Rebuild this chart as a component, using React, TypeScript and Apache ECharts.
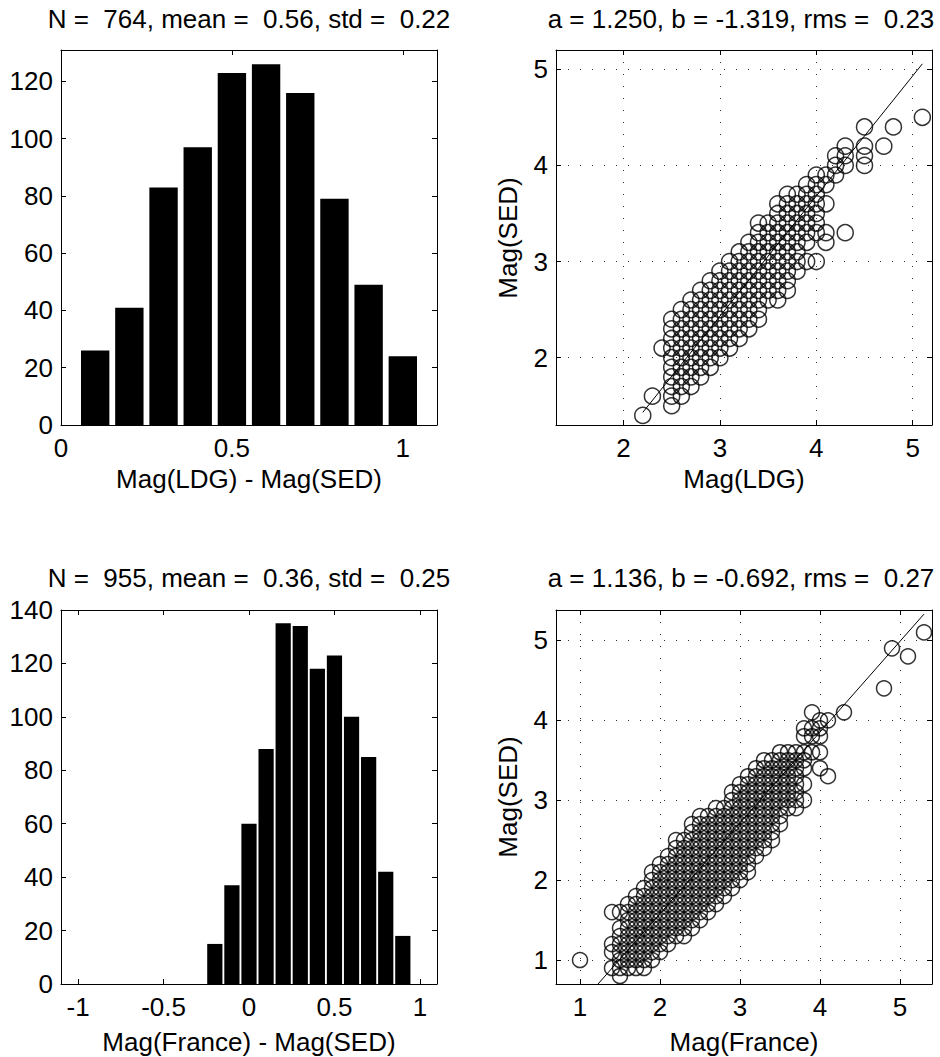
import React, { useEffect, useRef } from "react";
import * as echarts from "echarts";

const FONT = '"Liberation Sans", Arial, Helvetica, sans-serif';

// ---- Histogram: Mag(LDG) - Mag(SED)
const ldgBinCenters = [0.1, 0.2, 0.3, 0.4, 0.5, 0.6, 0.7, 0.8, 0.9, 1.0];
const ldgCounts = [26, 41, 83, 97, 123, 126, 116, 79, 49, 24];

// ---- Histogram: Mag(France) - Mag(SED)
const franceBinCenters = [-0.2, -0.1, 0.0, 0.1, 0.2, 0.3, 0.4, 0.5, 0.6, 0.7, 0.8, 0.9];
const franceCounts = [15, 37, 60, 88, 135, 134, 118, 123, 100, 85, 42, 18];

// ---- Scatter Mag(LDG) vs Mag(SED): occupied 0.1-grid cells, per column [x, yFrom, yTo]
const ldgRuns: [number, number, number][] = [
  [2.2, 1.4, 1.4], [2.3, 1.6, 1.6], [2.4, 2.1, 2.1],
  [2.5, 1.5, 2.4], [2.6, 1.6, 2.5], [2.7, 1.7, 2.6], [2.8, 1.8, 2.7],
  [2.9, 1.9, 2.8], [3.0, 2.0, 2.9], [3.1, 2.1, 3.0], [3.2, 2.2, 3.1],
  [3.3, 2.3, 3.2], [3.4, 2.4, 3.4], [3.5, 2.6, 3.4], [3.6, 2.6, 3.6],
  [3.7, 2.7, 3.7], [3.8, 2.9, 3.7],
  [3.9, 3.0, 3.0], [3.9, 3.2, 3.8],
  [4.0, 3.0, 3.0], [4.0, 3.3, 3.9],
  [4.1, 3.2, 3.3], [4.1, 3.6, 3.6], [4.1, 3.8, 3.9],
  [4.2, 3.9, 4.1],
  [4.3, 3.3, 3.3], [4.3, 4.0, 4.2],
  [4.5, 4.0, 4.2], [4.5, 4.4, 4.4],
  [4.7, 4.2, 4.2], [4.8, 4.4, 4.4], [5.1, 4.5, 4.5],
];
const ldgFit = { a: 1.25, b: -1.319 };

// ---- Scatter Mag(France) vs Mag(SED)
const franceRuns: [number, number, number][] = [
  [1.0, 1.0, 1.0],
  [1.4, 0.9, 0.9], [1.4, 1.1, 1.2], [1.4, 1.6, 1.6],
  [1.5, 0.8, 1.4], [1.5, 1.6, 1.6],
  [1.6, 0.9, 1.7], [1.7, 0.9, 1.8], [1.8, 0.9, 1.9], [1.9, 1.0, 2.1],
  [2.0, 1.1, 2.2], [2.1, 1.2, 2.3], [2.2, 1.3, 2.5], [2.3, 1.3, 2.5],
  [2.4, 1.4, 2.7], [2.5, 1.5, 2.8], [2.6, 1.6, 2.8], [2.7, 1.7, 2.9],
  [2.8, 1.8, 2.9], [2.9, 1.9, 3.1], [3.0, 2.0, 3.2], [3.1, 2.1, 3.3],
  [3.2, 2.3, 3.4], [3.3, 2.4, 3.5], [3.4, 2.5, 3.5], [3.5, 2.7, 3.6],
  [3.6, 2.9, 3.6], [3.7, 2.9, 3.6],
  [3.8, 3.0, 3.0], [3.8, 3.2, 3.2], [3.8, 3.4, 3.6], [3.8, 3.8, 3.9],
  [3.9, 3.6, 3.6], [3.9, 3.8, 3.9], [3.9, 4.1, 4.1],
  [4.0, 3.4, 3.4], [4.0, 3.6, 3.6], [4.0, 3.8, 4.0],
  [4.1, 3.3, 3.3], [4.1, 4.0, 4.0],
  [4.3, 4.1, 4.1], [4.8, 4.4, 4.4], [4.9, 4.9, 4.9], [5.1, 4.8, 4.8], [5.3, 5.1, 5.1],
];
const franceFit = { a: 1.136, b: -0.692 };

// ---- Tick values
const ticksX0 = [0, 0.5, 1];
const ticksY0 = [0, 20, 40, 60, 80, 100, 120];
const ticksX1 = [2, 3, 4, 5];
const ticksY1 = [2, 3, 4, 5];
const ticksX2 = [-1, -0.5, 0, 0.5, 1];
const ticksY2 = [0, 20, 40, 60, 80, 100, 120, 140];
const ticksX3 = [1, 2, 3, 4, 5];
const ticksY3 = [1, 2, 3, 4, 5];

// ---- Texts
const titles = [
  "N =  764, mean =  0.56, std =  0.22",
  "a = 1.250, b = -1.319, rms =  0.23",
  "N =  955, mean =  0.36, std =  0.25",
  "a = 1.136, b = -0.692, rms =  0.27",
];
const xNames = ["Mag(LDG) - Mag(SED)", "Mag(LDG)", "Mag(France) - Mag(SED)", "Mag(France)"];
const yNames = ["", "Mag(SED)", "", "Mag(SED)"];

function expandRuns(runs: [number, number, number][]) {
  const pts: number[][] = [];
  for (const [x, lo, hi] of runs) {
    for (let k = Math.round(lo * 10); k <= Math.round(hi * 10); k++) pts.push([x, k / 10]);
  }
  return pts;
}

function fitLine(points: number[][], a: number, b: number) {
  const xs = points.map((p) => p[0]);
  const x0 = Math.min(...xs);
  const x1 = Math.max(...xs);
  return [
    [x0, a * x0 + b],
    [x1, a * x1 + b],
  ];
}

export default function App() {
  const ref = useRef<HTMLDivElement>(null);

  useEffect(() => {
    document.body.style.margin = "0";
    if (!ref.current) return;
    const chart = echarts.init(ref.current, null, { renderer: "svg" });

    const grids = [
      { left: 61, top: 50, width: 376, height: 375 },
      { left: 556, top: 50, width: 376, height: 375 },
      { left: 61, top: 610, width: 376, height: 374 },
      { left: 556, top: 610, width: 376, height: 374 },
    ];
    const panels = [
      { xr: [0, 1.1], yr: [0, 131], xt: ticksX0, yt: ticksY0, grid: false },
      { xr: [1.3, 5.2], yr: [1.3, 5.2], xt: ticksX1, yt: ticksY1, grid: true },
      { xr: [-1.1, 1.1], yr: [0, 140], xt: ticksX2, yt: ticksY2, grid: false },
      { xr: [0.7, 5.4], yr: [0.7, 5.38], xt: ticksX3, yt: ticksY3, grid: true },
    ];

    const lineStyle = { color: "#000", width: 1 };
    const gridLine = (show: boolean) => ({
      show,
      lineStyle: { color: "#333", width: 1, type: [1, 11] as any },
    });

    const xAxis: any[] = [];
    const yAxis: any[] = [];
    panels.forEach((p, i) => {
      const common = (vals: number[]) => ({
        gridIndex: i,
        type: "value",
        axisLine: { show: true, onZero: false, lineStyle },
        axisTick: { show: true, inside: true, length: 5, customValues: vals, lineStyle },
      });
      xAxis.push({
        ...common(p.xt),
        position: "bottom",
        min: p.xr[0],
        max: p.xr[1],
        axisLabel: {
          show: true,
          customValues: p.xt,
          margin: 10,
          fontSize: 26,
          fontFamily: FONT,
          color: "#000",
        },
        splitLine: gridLine(p.grid),
      });
      xAxis.push({
        ...common(p.xt),
        position: "top",
        min: p.xr[0],
        max: p.xr[1],
        axisLabel: { show: false },
        splitLine: { show: false },
      });
      yAxis.push({
        ...common(p.yt),
        position: "left",
        min: p.yr[0],
        max: p.yr[1],
        axisLabel: {
          show: true,
          customValues: p.yt,
          margin: 8,
          fontSize: 26,
          fontFamily: FONT,
          color: "#000",
        },
        splitLine: gridLine(p.grid),
      });
      yAxis.push({
        ...common(p.yt),
        position: "right",
        min: p.yr[0],
        max: p.yr[1],
        axisLabel: { show: false },
        splitLine: { show: false },
      });
    });

    const ldgPts = expandRuns(ldgRuns);
    const frPts = expandRuns(franceRuns);

    const circleStyle = {
      color: "rgba(0,0,0,0)",
      borderColor: "#000",
      borderWidth: 1.5,
    };

    const series: any[] = [
      {
        type: "bar",
        xAxisIndex: 0,
        yAxisIndex: 0,
        data: ldgBinCenters.map((c, k) => [c, ldgCounts[k]]),
        barWidth: "83%",
        itemStyle: { color: "#000" },
        silent: true,
      },
      {
        type: "scatter",
        xAxisIndex: 2,
        yAxisIndex: 2,
        data: ldgPts,
        symbol: "circle",
        symbolSize: 16,
        itemStyle: circleStyle,
        silent: true,
      },
      {
        type: "line",
        xAxisIndex: 2,
        yAxisIndex: 2,
        data: fitLine(ldgPts, ldgFit.a, ldgFit.b),
        symbol: "none",
        showSymbol: false,
        clip: true,
        lineStyle: { color: "#000", width: 1 },
        silent: true,
        z: 3,
      },
      {
        type: "bar",
        xAxisIndex: 4,
        yAxisIndex: 4,
        data: franceBinCenters.map((c, k) => [c, franceCounts[k]]),
        barWidth: "89%",
        itemStyle: { color: "#000" },
        silent: true,
      },
      {
        type: "scatter",
        xAxisIndex: 6,
        yAxisIndex: 6,
        data: frPts,
        symbol: "circle",
        symbolSize: 15,
        itemStyle: circleStyle,
        silent: true,
      },
      {
        type: "line",
        xAxisIndex: 6,
        yAxisIndex: 6,
        data: fitLine(frPts, franceFit.a, franceFit.b),
        symbol: "none",
        showSymbol: false,
        clip: true,
        lineStyle: { color: "#000", width: 1 },
        silent: true,
        z: 3,
      },
    ];

    const textStyle = (text: string) => ({
      text,
      fill: "#000",
      fontSize: 26,
      fontFamily: FONT,
      align: "center",
      verticalAlign: "middle",
    });

    const titlePos = [
      [249, 19],
      [741, 19],
      [249, 578],
      [741, 578],
    ];
    const xNamePos = [
      [249, 479],
      [744, 479],
      [249, 1042],
      [744, 1042],
    ];
    const yNamePos = [
      [0, 0],
      [508, 238],
      [0, 0],
      [508, 797],
    ];

    const graphic: any[] = [];
    for (let i = 0; i < 4; i++) {
      graphic.push({ type: "text", x: titlePos[i][0], y: titlePos[i][1], style: textStyle(titles[i]) });
      graphic.push({ type: "text", x: xNamePos[i][0], y: xNamePos[i][1], style: textStyle(xNames[i]) });
      if (yNames[i]) {
        graphic.push({
          type: "text",
          x: yNamePos[i][0],
          y: yNamePos[i][1],
          rotation: Math.PI / 2,
          style: textStyle(yNames[i]),
        });
      }
    }

    chart.setOption({
      animation: false,
      backgroundColor: "#fff",
      grid: grids,
      xAxis,
      yAxis,
      series,
      graphic,
    });

    return () => chart.dispose();
  }, []);

  return <div ref={ref} style={{ width: 940, height: 1057 }} />;
}
